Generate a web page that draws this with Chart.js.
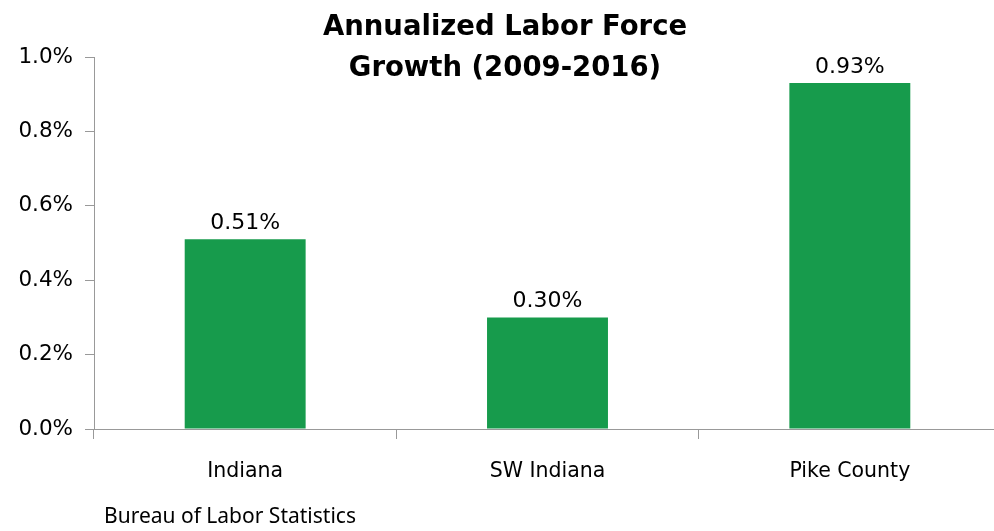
<!DOCTYPE html>
<html>
<head>
<meta charset="utf-8">
<script src="https://cdn.jsdelivr.net/npm/chart.js@4"></script>
<style>
  html, body { margin: 0; padding: 0; background: #fff; overflow: hidden; }
  #wrap { position: relative; width: 1002px; height: 531px; }
</style>
</head>
<body>
<div id="wrap"><canvas id="growth"></canvas></div>
<script>
const regions = ['Indiana', 'SW Indiana', 'Pike County'];
const growthPct = [0.51, 0.30, 0.93];
const titleLines = ['Annualized Labor Force', 'Growth (2009-2016)'];
const sourceNote = 'Bureau of Labor Statistics';

const FONT = "'DejaVu Sans', sans-serif";
const AXIS = '#999';

// titel, data-etiketten en bron direct op het canvas
const overlay = {
  id: 'overlay',
  afterDatasetsDraw(chart) {
    const { ctx } = chart;
    ctx.save();
    ctx.fillStyle = '#000';
    ctx.textAlign = 'center';
    ctx.textBaseline = 'alphabetic';
    ctx.font = `22px ${FONT}`;
    const meta = chart.getDatasetMeta(0);
    meta.data.forEach((bar, i) => {
      ctx.fillText(growthPct[i].toFixed(2) + '%', bar.x, bar.y - 10);
    });

    ctx.font = `bold 27.5px ${FONT}`;
    ctx.textBaseline = 'middle';
    ctx.fillText(titleLines[0], 505, 28);
    ctx.fillText(titleLines[1], 505, 69);

    ctx.font = `21px 'Noto Sans', sans-serif`;
    ctx.textAlign = 'left';
    ctx.fillText(sourceNote, 104, 517);
    ctx.restore();
  },
};

new Chart(document.getElementById('growth'), {
  type: 'bar',
  data: {
    labels: regions,
    datasets: [{
      data: growthPct,
      backgroundColor: '#179b4c',
      categoryPercentage: 1,
      barPercentage: 0.4,
    }],
  },
  options: {
    responsive: true,
    maintainAspectRatio: false,
    animation: false,
    layout: { padding: { top: 57, right: 1, bottom: 0, left: 0 } },
    plugins: { legend: { display: false }, tooltip: { enabled: false } },
    scales: {
      x: {
        afterFit: (s) => { s.height = 102; },
        grid: { offset: true, drawOnChartArea: false, drawTicks: true, tickLength: 10, color: AXIS },
        border: { color: AXIS, width: 1 },
        ticks: { color: '#000', font: { family: FONT, size: 20.5 }, padding: 20 },
      },
      y: {
        min: 0, max: 1.0,
        afterFit: (s) => { s.width = 94; },
        grid: { drawOnChartArea: false, drawTicks: true, tickLength: 9, color: AXIS },
        border: { color: AXIS, width: 1 },
        ticks: {
          stepSize: 0.2, color: '#000', padding: 12,
          font: { family: FONT, size: 21.5 },
          callback: (v) => Number(v).toFixed(1) + '%',
        },
      },
    },
  },
  plugins: [overlay],
});
</script>
</body>
</html>
